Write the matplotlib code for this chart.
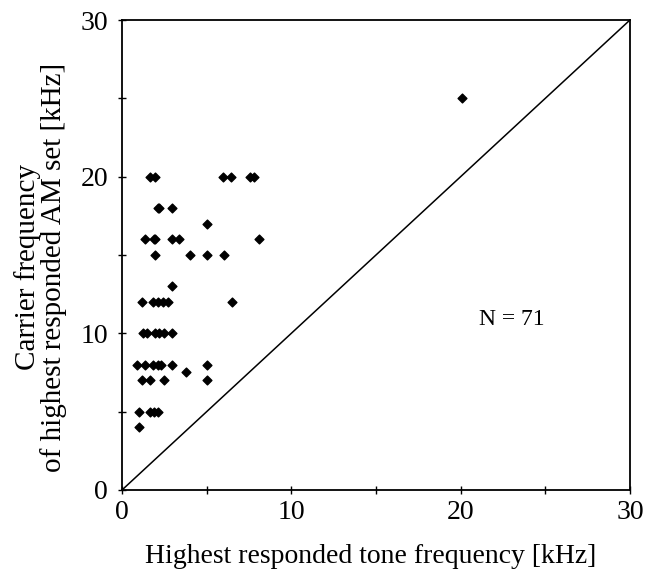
import matplotlib
matplotlib.use("Agg")
import matplotlib.pyplot as plt
import numpy as np

# tone frequency (x) vs AM carrier frequency (y), kHz
tone_khz = [
    1.65, 1.95, 5.97, 6.44, 7.56, 7.8,          # y = 20
    2.1, 2.2, 2.97,                              # y = 18
    5.0,                                         # y = 17
    1.36, 1.89, 1.95, 2.97, 3.38, 8.09,          # y = 16
    1.97, 4.0, 5.02, 6.04,                       # y = 15
    2.97,                                        # y = 13
    1.2, 1.85, 2.15, 2.44, 2.73, 6.5,            # y = 12
    1.26, 1.46, 1.95, 2.2, 2.48, 2.97,           # y = 10
    0.9, 1.36, 1.85, 2.15, 2.28, 2.93, 5.0,      # y = 8
    3.78,                                        # y = 7.5
    1.2, 1.65, 2.5, 5.0,                         # y = 7
    1.0, 1.65, 1.89, 2.15,                       # y = 5
    1.0,                                         # y = 4
    20.1,                                        # y = 25
]
carrier_khz = (
    [20] * 6 + [18] * 3 + [17] + [16] * 6 + [15] * 4 + [13]
    + [12] * 6 + [10] * 6 + [8] * 7 + [7.5] + [7] * 4 + [5] * 4 + [4] + [25]
)
n_label = "N = 71"

plt.rcParams["font.family"] = ["Liberation Serif", "DejaVu Serif"]

fig = plt.figure(figsize=(6.61, 5.72), dpi=100)
ax = fig.add_axes([0.1846, 0.1434, 0.7684, 0.8216])

ax.plot([0, 30], [0, 30], color="black", lw=1.1)
ax.scatter(tone_khz, carrier_khz, marker="D", s=20, color="black", zorder=3)

ax.text(21.1, 10.9, n_label, fontsize=17, va="center", ha="left")

ax.set_xlim(0, 30)
ax.set_ylim(0, 30)
ax.set_xticks(np.arange(0, 31, 5))
ax.set_yticks(np.arange(0, 31, 5))
ax.set_xticklabels(["0", "", "10", "", "20", "", "30"])
ax.set_yticklabels(["0", "", "10", "", "20", "", "30"])
ax.tick_params(direction="inout", length=6, width=1, labelsize=20)
ax.tick_params(axis="x", pad=4)
ax.tick_params(axis="y", pad=7)
for sp in ax.spines.values():
    sp.set_linewidth(1.3)

ax.set_xlabel("Highest responded tone frequency [kHz]", fontsize=20)
ax.set_ylabel("Carrier frequency\nof highest responded AM set [kHz]", fontsize=21,
              linespacing=0.95)
ax.xaxis.set_label_coords(0.49, -0.115)
ax.yaxis.set_label_coords(-0.108, 0.474)

fig.savefig("out.png", dpi=100)
